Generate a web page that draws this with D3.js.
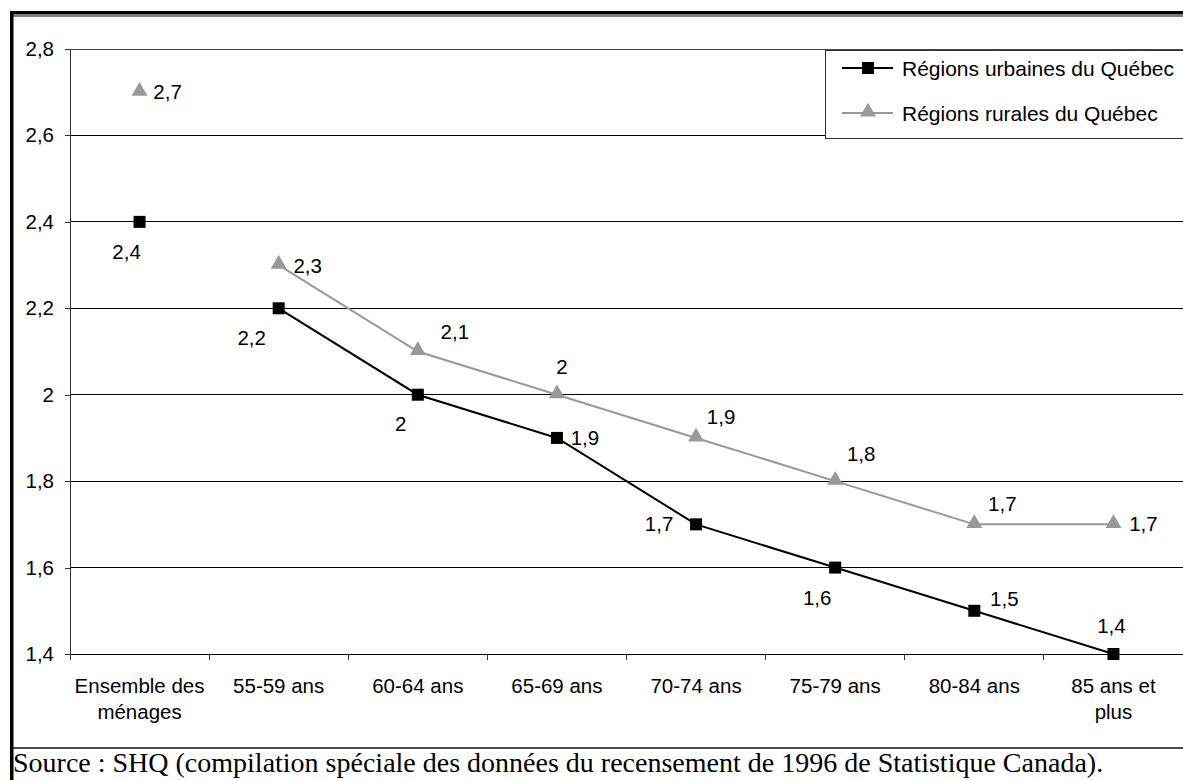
<!DOCTYPE html>
<html><head><meta charset="utf-8">
<script src="https://cdn.jsdelivr.net/npm/d3@7"></script>
<style>body{margin:0;background:#fff}svg{display:block}</style>
</head><body>
<script>
const categories = [["Ensemble des","ménages"],["55-59 ans"],["60-64 ans"],["65-69 ans"],["70-74 ans"],["75-79 ans"],["80-84 ans"],["85 ans et","plus"]];
const urbanValues = [2.4, 2.2, 2.0, 1.9, 1.7, 1.6, 1.5, 1.4];
const ruralValues = [2.7, 2.3, 2.1, 2.0, 1.9, 1.8, 1.7, 1.7];
const yTicks = [1.4, 1.6, 1.8, 2.0, 2.2, 2.4, 2.6, 2.8];
const seriesNames = ["Régions urbaines du Québec", "Régions rurales du Québec"];
const sourceText = "Source : SHQ (compilation spéciale des données du recensement de 1996 de Statistique Canada).";
// label placement offsets (dx, dy) relative to the point
const urbanLabelPos = [[-13,37],[-27,37],[-17,36],[28,7],[-37,7],[-18,37],[30,-5],[-2,-21]];
const ruralLabelPos = [[28,7],[29,8],[37,-13],[5,-21],[25,-14],[26,-20],[28,-13],[30,7]];

const W = 1183, H = 780;
const FS = 20.5;
const svg = d3.select("body").append("svg").attr("width", W).attr("height", H);
const fmt = v => String(+v.toFixed(1)).replace(".", ",");
const pL = 70, pR = 1183, pT = 49, pB = 654;
const sans = "Liberation Sans, Arial, sans-serif";

const x = d3.scaleBand().domain(d3.range(categories.length)).range([pL, pR]);
const y = d3.scaleLinear().domain([1.4, 2.8]).range([pB, pT]);
const cx = i => x(i) + x.bandwidth() / 2;

// outer frame
svg.append("rect").attr("x", 10).attr("y", 11).attr("width", W).attr("height", 3.5).attr("fill", "#000");
svg.append("line").attr("x1", 13).attr("x2", W).attr("y1", 16).attr("y2", 16).attr("stroke", "#000").attr("stroke-width", 1);
svg.append("rect").attr("x", 10).attr("y", 11).attr("width", 3.5).attr("height", H).attr("fill", "#000");
svg.append("line").attr("x1", 13).attr("x2", W).attr("y1", 748).attr("y2", 748).attr("stroke", "#111").attr("stroke-width", 1.5);

// gridlines
svg.append("g").selectAll("line").data(yTicks).join("line")
  .attr("x1", pL).attr("x2", pR).attr("y1", d => y(d)).attr("y2", d => y(d))
  .attr("stroke", d => d === 2.8 ? "#444" : "#000").attr("stroke-width", 1).attr("shape-rendering", "crispEdges");

// y axis
const yAxis = svg.append("g").attr("transform", `translate(${pL},0)`)
  .call(d3.axisLeft(y).tickValues(yTicks).tickSize(5).tickPadding(11).tickFormat(fmt));
yAxis.select(".domain").attr("stroke", "#333").attr("shape-rendering", "crispEdges");
yAxis.selectAll(".tick line").attr("stroke", "#333").attr("shape-rendering", "crispEdges");
yAxis.selectAll("text").attr("font-family", sans).attr("font-size", FS).attr("fill", "#000");

// x axis
const xAxis = svg.append("g").attr("transform", `translate(0,${pB})`);
xAxis.append("line").attr("x1", pL).attr("x2", pR).attr("y1", 0).attr("y2", 0).attr("stroke", "#000").attr("shape-rendering", "crispEdges");
xAxis.selectAll(".tk").data(d3.range(categories.length + 1)).join("line")
  .attr("x1", i => pL + i * x.bandwidth()).attr("x2", i => pL + i * x.bandwidth())
  .attr("y1", 0).attr("y2", 6).attr("stroke", "#333").attr("shape-rendering", "crispEdges");
const xl = xAxis.selectAll(".lab").data(categories).join("text")
  .attr("x", (d, i) => cx(i)).attr("y", 39).attr("text-anchor", "middle")
  .attr("font-family", sans).attr("font-size", FS).attr("fill", "#000");
xl.selectAll("tspan").data(d => d).join("tspan")
  .attr("x", function () { return d3.select(this.parentNode).attr("x"); })
  .attr("dy", (d, j) => j === 0 ? 0 : 26).text(d => d);

// lines (first category not connected)
const line = d3.line().defined((d, i) => i > 0).x((d, i) => cx(i)).y(d => y(d));
svg.append("path").datum(ruralValues).attr("d", line).attr("fill", "none").attr("stroke", "#999").attr("stroke-width", 2);
svg.append("path").datum(urbanValues).attr("d", line).attr("fill", "none").attr("stroke", "#000").attr("stroke-width", 2);

const tri = d3.symbol().type(d3.symbolTriangle).size(110);
svg.append("g").selectAll("path").data(ruralValues).join("path")
  .attr("d", tri).attr("transform", (d, i) => `translate(${cx(i)},${y(d) - 1})`).attr("fill", "#999");
svg.append("g").selectAll("rect").data(urbanValues).join("rect")
  .attr("x", (d, i) => cx(i) - 6).attr("y", d => y(d) - 6).attr("width", 12).attr("height", 12).attr("fill", "#000");

// data labels
function labels(vals, pos) {
  svg.append("g").selectAll("text").data(vals).join("text")
    .attr("x", (d, i) => cx(i) + pos[i][0]).attr("y", (d, i) => y(d) + pos[i][1])
    .attr("text-anchor", "middle").attr("font-family", sans)
    .attr("font-size", FS).attr("fill", "#000").text(d => fmt(d));
}
labels(urbanValues, urbanLabelPos);
labels(ruralValues, ruralLabelPos);

// legend
const lg = svg.append("g");
lg.append("rect").attr("x", 825.5).attr("y", 50.5).attr("width", 400).attr("height", 88)
  .attr("fill", "#fff").attr("stroke", "#333").attr("stroke-width", 1);
const legY = [68, 113];
lg.append("line").attr("x1", 842).attr("x2", 893).attr("y1", legY[0]).attr("y2", legY[0]).attr("stroke", "#000").attr("stroke-width", 2);
lg.append("rect").attr("x", 862).attr("y", legY[0] - 6).attr("width", 12).attr("height", 12).attr("fill", "#000");
lg.append("line").attr("x1", 842).attr("x2", 893).attr("y1", legY[1]).attr("y2", legY[1]).attr("stroke", "#999").attr("stroke-width", 2);
lg.append("path").attr("d", tri).attr("transform", `translate(868,${legY[1] - 1})`).attr("fill", "#999");
lg.selectAll("text").data(seriesNames).join("text")
  .attr("x", 902).attr("y", (d, i) => legY[i] + 8)
  .attr("font-family", sans).attr("font-size", 21).attr("fill", "#000").text(d => d);

// source
svg.append("text").attr("x", 13).attr("y", 772).attr("font-family", "Liberation Serif, Times New Roman, serif")
  .attr("font-size", 28).attr("fill", "#000").text(sourceText);
</script>
</body></html>
